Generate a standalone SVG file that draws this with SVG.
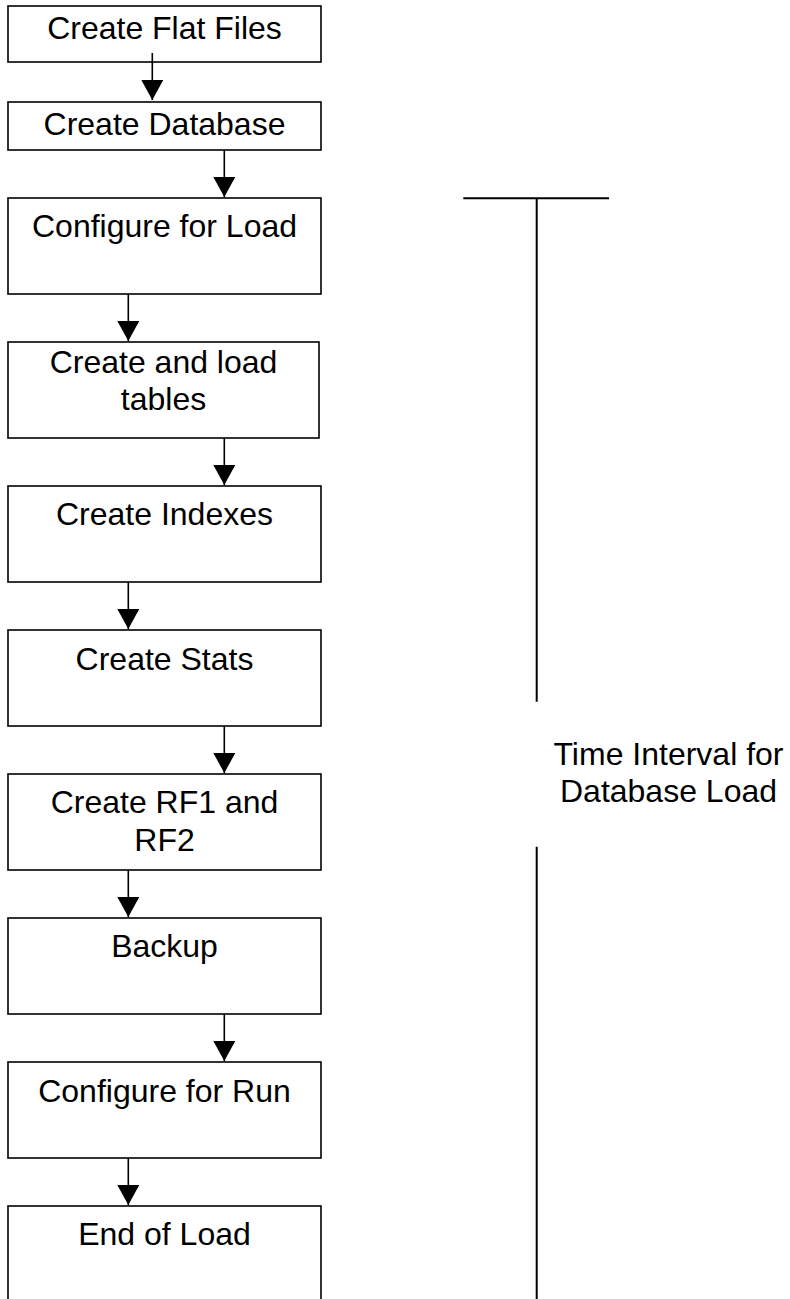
<svg xmlns="http://www.w3.org/2000/svg" width="790" height="1299" viewBox="0 0 790 1299">
<style>
.box{fill:#fff;stroke:#000;stroke-width:1.6}
.lbl{font-family:"Liberation Sans",Arial,sans-serif;font-size:32px;fill:#000;text-anchor:middle}
.conn{stroke:#000;stroke-width:1.6;fill:none}
.bar{stroke:#000;stroke-width:2;fill:none}
</style>
<defs>
<marker id="ah" markerUnits="userSpaceOnUse" viewBox="0 0 20 22" markerWidth="20" markerHeight="22" refX="20" refY="11" orient="auto">
<path d="M0,0 L20,11 L0,22 z" fill="#000"/>
</marker>
</defs>
<rect width="790" height="1299" fill="#fff"/>
<g id="n1"><rect class="box" x="8" y="6" width="313" height="56"/><text class="lbl" x="164.5" y="39">Create Flat Files</text></g>
<g id="n2"><rect class="box" x="8" y="102" width="313" height="48"/><text class="lbl" x="164.5" y="135">Create Database</text></g>
<g id="n3"><rect class="box" x="8" y="198" width="313" height="96"/><text class="lbl" x="164.5" y="237">Configure for Load</text></g>
<g id="n4"><rect class="box" x="8" y="342" width="311" height="96"/><text class="lbl" x="163.5" y="373">Create and load</text><text class="lbl" x="163.5" y="410">tables</text></g>
<g id="n5"><rect class="box" x="8" y="486" width="313" height="96"/><text class="lbl" x="164.5" y="525">Create Indexes</text></g>
<g id="n6"><rect class="box" x="8" y="630" width="313" height="96"/><text class="lbl" x="164.5" y="670">Create Stats</text></g>
<g id="n7"><rect class="box" x="8" y="774" width="313" height="96"/><text class="lbl" x="164.5" y="813">Create RF1 and</text><text class="lbl" x="164.5" y="851">RF2</text></g>
<g id="n8"><rect class="box" x="8" y="918" width="313" height="96"/><text class="lbl" x="164.5" y="957">Backup</text></g>
<g id="n9"><rect class="box" x="8" y="1062" width="313" height="96"/><text class="lbl" x="164.5" y="1102">Configure for Run</text></g>
<g id="n10"><rect class="box" x="8" y="1206" width="313" height="110"/><text class="lbl" x="164.5" y="1245">End of Load</text></g>
<g id="connectors">
<line class="conn" x1="152.3" y1="53" x2="152.3" y2="100" marker-end="url(#ah)"/>
<line class="conn" x1="224.3" y1="150" x2="224.3" y2="197" marker-end="url(#ah)"/>
<line class="conn" x1="128.3" y1="294" x2="128.3" y2="341" marker-end="url(#ah)"/>
<line class="conn" x1="224.3" y1="438" x2="224.3" y2="485" marker-end="url(#ah)"/>
<line class="conn" x1="128.3" y1="582" x2="128.3" y2="629" marker-end="url(#ah)"/>
<line class="conn" x1="224.3" y1="726" x2="224.3" y2="773" marker-end="url(#ah)"/>
<line class="conn" x1="128.3" y1="870" x2="128.3" y2="917" marker-end="url(#ah)"/>
<line class="conn" x1="224.3" y1="1014" x2="224.3" y2="1061" marker-end="url(#ah)"/>
<line class="conn" x1="128.3" y1="1158" x2="128.3" y2="1205" marker-end="url(#ah)"/>
</g>
<g id="interval">
<line class="bar" x1="463.3" y1="198.3" x2="609" y2="198.3"/>
<line class="bar" x1="536.7" y1="198.3" x2="536.7" y2="701.7"/>
<line class="bar" x1="536.7" y1="846.7" x2="536.7" y2="1299"/>
<text class="lbl" x="668.5" y="765">Time Interval for</text>
<text class="lbl" x="668.5" y="802">Database Load</text>
</g>
</svg>
